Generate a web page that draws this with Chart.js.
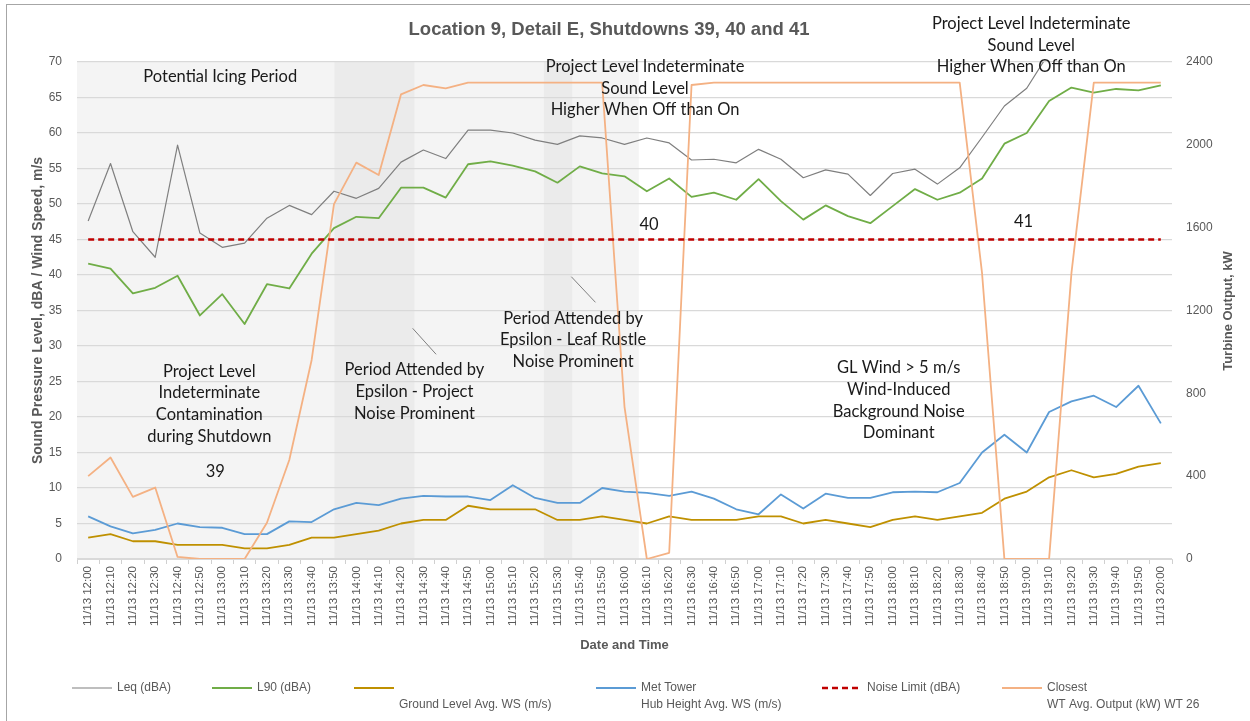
<!DOCTYPE html>
<html>
<head>
<meta charset="utf-8">
<title>Location 9, Detail E, Shutdowns 39, 40 and 41</title>
<script src="https://cdn.jsdelivr.net/npm/chart.js@4.4.1/dist/chart.umd.min.js"></script>
<style>
  html, body { margin: 0; padding: 0; background: #fff; overflow: hidden; }
  #wrap { width: 1250px; height: 721px; }
</style>
</head>
<body>
<div id="wrap"><canvas id="shutdownChart" width="1250" height="721"></canvas></div>
<script>
// 10-minute intervals
const times = [
  '11/13 12:00', '11/13 12:10', '11/13 12:20', '11/13 12:30', '11/13 12:40', '11/13 12:50',
  '11/13 13:00', '11/13 13:10', '11/13 13:20', '11/13 13:30', '11/13 13:40', '11/13 13:50',
  '11/13 14:00', '11/13 14:10', '11/13 14:20', '11/13 14:30', '11/13 14:40', '11/13 14:50',
  '11/13 15:00', '11/13 15:10', '11/13 15:20', '11/13 15:30', '11/13 15:40', '11/13 15:50',
  '11/13 16:00', '11/13 16:10', '11/13 16:20', '11/13 16:30', '11/13 16:40', '11/13 16:50',
  '11/13 17:00', '11/13 17:10', '11/13 17:20', '11/13 17:30', '11/13 17:40', '11/13 17:50',
  '11/13 18:00', '11/13 18:10', '11/13 18:20', '11/13 18:30', '11/13 18:40', '11/13 18:50',
  '11/13 19:00', '11/13 19:10', '11/13 19:20', '11/13 19:30', '11/13 19:40', '11/13 19:50',
  '11/13 20:00'
];

// dBA (Leq goes off the top of the scale after 19:10)
const leq = [47.6, 55.7, 46.1, 42.5, 58.3, 45.9, 43.9, 44.5, 48.0, 49.8, 48.5, 51.8,
  50.8, 52.2, 55.9, 57.6, 56.4, 60.4, 60.4, 60.0, 59.0, 58.4, 59.6, 59.3,
  58.4, 59.3, 58.6, 56.2, 56.3, 55.8, 57.7, 56.3, 53.7, 54.8, 54.2, 51.2,
  54.3, 54.9, 52.8, 55.1, 59.4, 63.8, 66.3, 71.3, null, null, null, null, null];
const l90 = [41.6, 40.9, 37.4, 38.2, 39.9, 34.3, 37.3, 33.1, 38.7, 38.1, 43.0, 46.6,
  48.2, 48.0, 52.3, 52.3, 50.9, 55.6, 56.0, 55.4, 54.6, 53.0, 55.3, 54.3,
  53.9, 51.8, 53.6, 51.0, 51.6, 50.6, 53.5, 50.4, 47.8, 49.8, 48.3, 47.3,
  49.7, 52.1, 50.6, 51.6, 53.6, 58.5, 60.0, 64.5, 66.4, 65.7, 66.2, 66.0, 66.7];

// m/s
const groundWs = [3.0, 3.5, 2.5, 2.5, 2.0, 2.0, 2.0, 1.5, 1.5, 2.0, 3.0, 3.0,
  3.5, 4.0, 5.0, 5.5, 5.5, 7.5, 7.0, 7.0, 7.0, 5.5, 5.5, 6.0,
  5.5, 5.0, 6.0, 5.5, 5.5, 5.5, 6.0, 6.0, 5.0, 5.5, 5.0, 4.5,
  5.5, 6.0, 5.5, 6.0, 6.5, 8.5, 9.5, 11.5, 12.5, 11.5, 12.0, 13.0, 13.5];
const hubWs = [6.0, 4.6, 3.6, 4.1, 5.0, 4.5, 4.4, 3.5, 3.5, 5.3, 5.2, 7.0,
  7.9, 7.6, 8.5, 8.9, 8.8, 8.8, 8.3, 10.4, 8.6, 7.9, 7.9, 10.0,
  9.5, 9.3, 8.9, 9.5, 8.5, 7.0, 6.3, 9.1, 7.1, 9.2, 8.6, 8.6,
  9.4, 9.5, 9.4, 10.7, 15.0, 17.5, 15.0, 20.7, 22.2, 23.0, 21.4, 24.4, 19.1];

const noiseLimit = [45, 45, 45, 45, 45, 45, 45, 45, 45, 45, 45, 45,
  45, 45, 45, 45, 45, 45, 45, 45, 45, 45, 45, 45,
  45, 45, 45, 45, 45, 45, 45, 45, 45, 45, 45, 45,
  45, 45, 45, 45, 45, 45, 45, 45, 45, 45, 45, 45, 45];

// kW, WT 26
const wtOutput = [400, 490, 300, 345, 10, 0, 0, 0, 175, 478, 961, 1714,
  1914, 1854, 2244, 2289, 2273, 2300, 2300, 2300, 2300, 2300, 2300, 2300,
  735, 0, 30, 2289, 2300, 2300, 2300, 2300, 2300, 2300, 2300, 2300,
  2300, 2300, 2300, 2300, 1380, 0, 0, 0, 1380, 2300, 2300, 2300, 2300];

const leftTicks = { min: 0, max: 70, step: 5 };
const rightTicks = { min: 0, max: 2400, step: 400 };

// shaded periods, in category index units
const icingPeriod = [-0.5, 24.64];
const attendedPeriods = [[11.02, 14.6], [20.39, 21.66]];

const grey = '#595959';
const axisFont = "'Liberation Sans', Arial, sans-serif";
const noteFont = "Lato, 'Open Sans', sans-serif";

// text notes, anchored at (category index, dBA)
const notes = [
  { at: [5.91, 67.9], lines: ['Potential Icing Period'] },
  { at: [24.92, 69.3], lines: ['Project Level Indeterminate', 'Sound Level', 'Higher When Off than On'] },
  { at: [42.2, 75.4], lines: ['Project Level Indeterminate', 'Sound Level', 'Higher When Off than On'] },
  { at: [25.1, 47.1], lines: ['40'] },
  { at: [41.86, 47.5], lines: ['41'] },
  { at: [5.42, 26.4], lines: ['Project Level', 'Indeterminate', 'Contamination', 'during Shutdown'] },
  { at: [5.69, 12.3], lines: ['39'] },
  { at: [14.6, 26.6], lines: ['Period Attended by', 'Epsilon - Project', 'Noise Prominent'] },
  { at: [21.7, 33.9], lines: ['Period Attended by', 'Epsilon - Leaf Rustle', 'Noise Prominent'] },
  { at: [36.27, 26.9], lines: ['GL Wind > 5 m/s', 'Wind-Induced', 'Background Noise', 'Dominant'] }
];
const leaders = [
  [[14.52, 32.49], [15.57, 28.83]],
  [[21.62, 39.76], [22.70, 36.15]]
];

const periodShading = {
  id: 'periodShading',
  beforeDraw(chart) {
    const { ctx, chartArea: a, scales: { x } } = chart;
    ctx.save();
    ctx.fillStyle = '#ffffff';
    ctx.fillRect(0, 0, chart.width, chart.height);

    const band = (span, color) => {
      const x0 = Math.max(x.getPixelForValue(span[0]), a.left);
      const x1 = Math.min(x.getPixelForValue(span[1]), a.right);
      ctx.fillStyle = color;
      ctx.fillRect(x0, a.top, x1 - x0, a.bottom - a.top);
    };
    band(icingPeriod, '#f4f4f4');
    attendedPeriods.forEach(p => band(p, '#ebebeb'));

    // outer chart border
    ctx.strokeStyle = '#a6a6a6';
    ctx.lineWidth = 1;
    ctx.strokeRect(6.5, 4.5, chart.width + 20, chart.height + 20);
    ctx.restore();
  }
};

const chartNotes = {
  id: 'chartNotes',
  afterDatasetsDraw(chart) {
    const { ctx, scales: { x, y } } = chart;
    ctx.save();

    ctx.strokeStyle = '#808080';
    ctx.lineWidth = 1;
    leaders.forEach(([p, q]) => {
      ctx.beginPath();
      ctx.moveTo(x.getPixelForValue(p[0]), y.getPixelForValue(p[1]));
      ctx.lineTo(x.getPixelForValue(q[0]), y.getPixelForValue(q[1]));
      ctx.stroke();
    });

    ctx.fillStyle = '#1a1a1a';
    ctx.font = '16.5px ' + noteFont;
    ctx.textAlign = 'center';
    ctx.textBaseline = 'middle';
    notes.forEach(n => {
      const cx = x.getPixelForValue(n.at[0]);
      const cy = y.getPixelForValue(n.at[1]);
      n.lines.forEach((t, i) => ctx.fillText(t, cx, cy + i * 21.6));
    });
    ctx.restore();
  },
  afterDraw(chart) {
    const { ctx } = chart;
    ctx.save();
    ctx.fillStyle = grey;
    ctx.textBaseline = 'middle';

    // title
    ctx.font = 'bold 18.5px ' + axisFont;
    ctx.textAlign = 'center';
    ctx.fillText('Location 9, Detail E, Shutdowns 39, 40 and 41', 609, 30);

    // right axis title, reading upwards
    ctx.font = 'bold 13px ' + axisFont;
    ctx.translate(1228, 311);
    ctx.rotate(-Math.PI / 2);
    ctx.fillText('Turbine Output, kW', 0, 0);
    ctx.restore();
  }
};

// legend along the bottom, styles taken from the datasets
const legendSlots = [72, 212, 354, 596, 822, 1002];
const bottomLegend = {
  id: 'bottomLegend',
  afterDraw(chart) {
    const { ctx } = chart;
    ctx.save();
    ctx.font = '12px ' + axisFont;
    ctx.fillStyle = grey;
    ctx.textAlign = 'left';
    ctx.textBaseline = 'middle';
    chart.data.datasets.forEach((ds, i) => {
      const x0 = legendSlots[i];
      ctx.save();
      ctx.strokeStyle = ds.borderColor;
      ctx.lineWidth = ds.borderWidth;
      ctx.setLineDash(ds.borderDash || []);
      ctx.beginPath();
      ctx.moveTo(x0, 688);
      ctx.lineTo(x0 + 40, 688);
      ctx.stroke();
      ctx.restore();
      ds.legendLines.forEach((t, k) => ctx.fillText(t, x0 + 45, 688 + k * 16.5));
    });
    ctx.restore();
  }
};

const line = (label, legendLines, data, color, width, axis, extra) => Object.assign({
  label, legendLines, data,
  borderColor: color,
  backgroundColor: color,
  borderWidth: width,
  pointRadius: 0,
  tension: 0,
  borderJoinStyle: 'round',
  yAxisID: axis
}, extra || {});

new Chart(document.getElementById('shutdownChart'), {
  type: 'line',
  data: {
    labels: times,
    datasets: [
      line('Leq (dBA)', ['Leq (dBA)'], leq, '#7f7f7f', 1.2, 'y', { order: 6 }),
      line('L90 (dBA)', ['L90 (dBA)'], l90, '#70ad47', 1.8, 'y', { order: 5 }),
      line('Ground Level Avg. WS (m/s)', ['', 'Ground Level Avg. WS (m/s)'], groundWs, '#bf9000', 1.8, 'y', { order: 4 }),
      line('Met Tower Hub Height Avg. WS (m/s)', ['Met Tower', 'Hub Height Avg. WS (m/s)'], hubWs, '#5b9bd5', 1.8, 'y', { order: 3 }),
      line('Noise Limit (dBA)', ['Noise Limit (dBA)'], noiseLimit, '#c00000', 2.4, 'y', { order: 1, borderDash: [6, 4] }),
      line('Closest WT Avg. Output (kW) WT 26', ['Closest', 'WT Avg. Output (kW) WT 26'], wtOutput, '#f4b183', 1.8, 'y1', { order: 2 })
    ]
  },
  options: {
    responsive: false,
    animation: false,
    devicePixelRatio: 1,
    layout: { padding: { top: 62, left: 0, right: 0, bottom: 0 } },
    plugins: {
      legend: { display: false },
      title: { display: false },
      tooltip: { enabled: false }
    },
    scales: {
      x: {
        offset: true,
        grid: { offset: true, drawOnChartArea: false, drawTicks: true, tickLength: 5, color: '#d0d0d0' },
        border: { color: '#d9d9d9' },
        ticks: { autoSkip: false, minRotation: 90, maxRotation: 90, padding: 2, color: grey, font: { family: axisFont, size: 11.5 } },
        title: { display: true, text: 'Date and Time', color: grey, font: { family: axisFont, size: 13, weight: 'bold' }, padding: { top: 0, bottom: 68 } },
        afterFit(s) { s.height = 162; }
      },
      y: {
        position: 'left',
        min: leftTicks.min,
        max: leftTicks.max,
        ticks: { stepSize: leftTicks.step, padding: 15, color: grey, font: { family: axisFont, size: 12 } },
        grid: { color: '#d9d9d9', lineWidth: 1.2, drawTicks: false },
        border: { display: false },
        title: { display: true, text: 'Sound Pressure Level, dBA / Wind Speed, m/s', color: grey, font: { family: axisFont, size: 14, weight: 'bold' }, padding: { top: 30, bottom: 0 } },
        afterFit(s) { s.width = 77; }
      },
      y1: {
        position: 'right',
        min: rightTicks.min,
        max: rightTicks.max,
        ticks: { stepSize: rightTicks.step, padding: 14, color: grey, font: { family: axisFont, size: 12 }, callback: v => String(v) },
        grid: { display: false, drawTicks: false },
        border: { display: false },
        afterFit(s) { s.width = 78; }
      }
    }
  },
  plugins: [periodShading, chartNotes, bottomLegend]
});
</script>
</body>
</html>
